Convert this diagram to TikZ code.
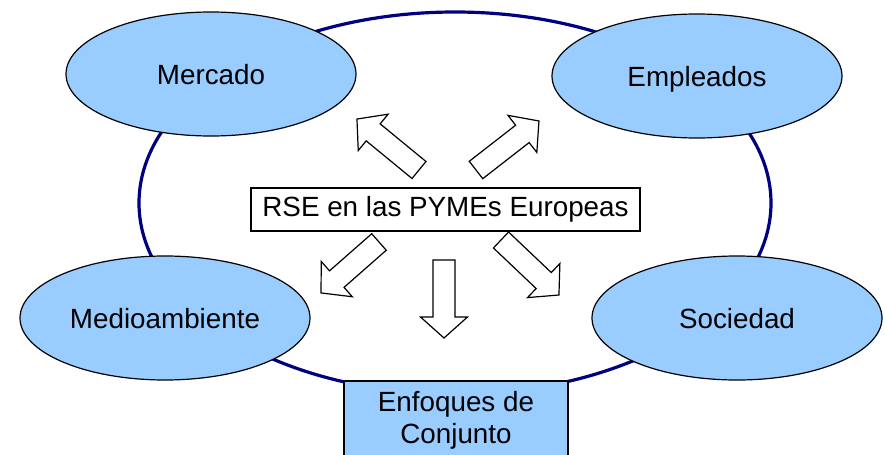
\documentclass[tikz,border=0pt]{standalone}
\usepackage{fontspec}
\setmainfont{Liberation Sans}
\usetikzlibrary{shapes.geometric}

\definecolor{paleblue}{HTML}{99CCFF}
\definecolor{ringblue}{HTML}{000080}

\tikzset{
  topic/.style={ellipse, draw=black, line width=0.6pt, fill=paleblue,
    minimum width=145pt, minimum height=62pt, inner sep=0pt, text depth=0pt},
  ring/.style={ellipse, draw=ringblue, line width=1.6pt,
    minimum width=316pt, minimum height=191pt},
  hub/.style={draw=black, fill=white, line width=0.6pt,
    minimum width=194.5pt, minimum height=21.5pt, inner sep=0pt},
  joint/.style={draw=black, fill=paleblue, line width=0.6pt, align=center,
    minimum width=112pt, minimum height=39pt, inner sep=0pt},
  blockarr/.style={draw=black, fill=white, line width=0.6pt, line join=miter}
}

% block arrow: tail x, tail y, angle, length
\newcommand\blockarrow[4]{
  \draw[blockarr, shift={(#1,#2)}, rotate=#3]
    (0,-11) -- ({#4-21},-11) -- ({#4-21},-23.5) -- (#4,0)
    -- ({#4-21},23.5) -- ({#4-21},11) -- (0,11) -- cycle;
}

\begin{document}
\begin{tikzpicture}[x=0.5pt, y=-0.5pt, font=\fontsize{13.9}{16}\selectfont]
  \useasboundingbox (0,0) rectangle (885,455);

  % outer ring
  \node[ring] (ring) at (455,203) {};

  % arrows out of the hub
  \blockarrow{419}{170}{140.6}{80.3}
  \blockarrow{476}{170}{37.9}{79.8}
  \blockarrow{379}{242}{-138.7}{77.2}
  \blockarrow{444}{260}{-90}{78}
  \blockarrow{501}{240}{-43.5}{79.9}

  \node[hub] (hub) at (445.5,209.5) {RSE en las PYMEs Europeas};

  % stakeholder ellipses
  \node[topic] (mercado) at (211,74) {Mercado};
  \node[topic] (empleados) at (697,76) {Empleados};
  \node[topic] (medio) at (165,318) {Medioambiente};
  \node[topic] (sociedad) at (737,318) {Sociedad};

  \node[joint] (joint) at (456,420) {Enfoques de\\Conjunto};
\end{tikzpicture}
\end{document}
